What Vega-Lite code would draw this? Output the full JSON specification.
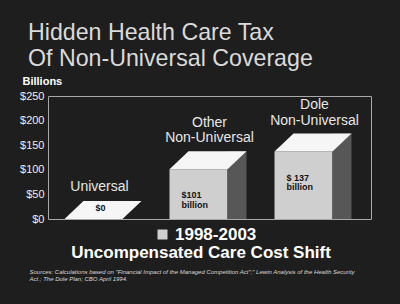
{
  "$schema": "https://vega.github.io/schema/vega-lite/v6.json",
  "width": 323,
  "height": 123,
  "autosize": "none",
  "padding": {"left": 48, "top": 96, "right": 29, "bottom": 85},
  "background": "#1e1e1e",
  "config": {
    "view": {"stroke": "#a8a8a8", "strokeWidth": 1},
    "font": "Liberation Sans"
  },
  "title": {
    "text": ["Hidden Health Care Tax", "Of Non-Universal Coverage"],
    "anchor": "start",
    "frame": "group",
    "dx": -20,
    "offset": 3.5,
    "fontSize": 23.2,
    "fontWeight": "normal",
    "color": "#dadada",
    "lineHeight": 26.5,
    "font": "Liberation Sans"
  },
  "data": {
    "values": [
      {"category": "Universal", "value": 0, "label": "Universal", "inner": "$0"},
      {"category": "Other Non-Universal", "value": 101, "label": "Other\nNon-Universal", "inner": "$101\nbillion"},
      {"category": "Dole Non-Universal", "value": 137, "label": "Dole\nNon-Universal", "inner": "$ 137\nbillion"}
    ]
  },
  "encoding": {
    "x": {
      "field": "category",
      "type": "nominal",
      "sort": null,
      "scale": {"type": "point", "padding": 0.538},
      "axis": {
        "labels": false,
        "ticks": false,
        "domain": false,
        "grid": false,
        "title": "Uncompensated Care Cost Shift",
        "titleX": 152.5,
        "titleY": 38.7,
        "titleAlign": "center",
        "titleBaseline": "alphabetic",
        "titleFontSize": 17,
        "titleFontWeight": "bold",
        "titleColor": "#ffffff",
        "titleFont": "Liberation Sans"
      }
    }
  },
  "layer": [
    {
      "encoding": {
        "y": {
          "field": "value",
          "type": "quantitative",
          "scale": {"domain": [0, 250], "nice": false},
          "axis": {
            "values": [0, 50, 100, 150, 200, 250],
            "labelExpr": "'$' + datum.value",
            "labelFontSize": 11,
            "labelColor": "#ececec",
            "labelFont": "Liberation Sans",
            "labelPadding": 4,
            "ticks": false,
            "domain": false,
            "grid": false,
            "title": "Billions",
            "titleAngle": 0,
            "titleAlign": "left",
            "titleBaseline": "alphabetic",
            "titleX": -26,
            "titleY": -12,
            "titleFontSize": 11,
            "titleFontWeight": "bold",
            "titleColor": "#ffffff",
            "titleFont": "Liberation Sans"
          }
        }
      },
      "layer": [
        {
          "mark": {"type": "bar", "width": 58, "xOffset": -11},
          "encoding": {
            "color": {
              "datum": "1998-2003",
              "type": "nominal",
              "scale": {"range": ["#cfcfcf"]},
              "legend": {
                "orient": "none",
                "legendX": 106,
                "legendY": 130,
                "title": null,
                "symbolType": "square",
                "symbolSize": 100,
                "symbolStrokeWidth": 0,
                "symbolOpacity": 1,
                "labelFontSize": 17,
                "labelFontWeight": "bold",
                "labelColor": "#ffffff",
                "labelFont": "Liberation Sans",
                "labelOffset": 4,
                "padding": 0
              }
            }
          }
        },
        {
          "transform": [{"filter": "datum.value > 0"}],
          "mark": {"type": "bar", "width": 19, "xOffset": 27.5, "yOffset": -18, "y2Offset": 0, "color": "#575757"},
          "encoding": {
            "y": {"field": "value", "type": "quantitative", "stack": null},
            "y2": {"datum": 0}
          }
        },
        {
          "mark": {
            "type": "point",
            "shape": "M-40,0 L18,0 L37,-18 L-21,-18 Z",
            "size": 4,
            "filled": true,
            "color": "#f6f6f6",
            "opacity": 1,
            "strokeWidth": 0
          }
        },
        {
          "transform": [{"filter": "datum.value > 0"}],
          "mark": {
            "type": "text",
            "dy": -42.5,
            "baseline": "alphabetic",
            "align": "center",
            "fontSize": 14,
            "color": "#e6e6e6",
            "lineHeight": 15.7,
            "lineBreak": "\n",
            "font": "Liberation Sans"
          },
          "encoding": {"text": {"field": "label"}}
        },
        {
          "transform": [{"filter": "datum.value == 0"}],
          "mark": {
            "type": "text",
            "dx": -5,
            "dy": -28.3,
            "baseline": "alphabetic",
            "align": "center",
            "fontSize": 14,
            "color": "#e6e6e6",
            "font": "Liberation Sans"
          },
          "encoding": {"text": {"field": "label"}}
        },
        {
          "transform": [{"filter": "datum.value == 0"}],
          "mark": {
            "type": "text",
            "dx": -4,
            "dy": -8.3,
            "baseline": "alphabetic",
            "align": "center",
            "fontSize": 9,
            "fontWeight": "bold",
            "color": "#111111",
            "font": "Liberation Sans"
          },
          "encoding": {"text": {"field": "inner"}}
        }
      ]
    },
    {
      "transform": [{"filter": "datum.value > 0"}],
      "mark": {
        "type": "text",
        "dx": -28,
        "dy": 29,
        "baseline": "alphabetic",
        "align": "left",
        "fontSize": 9,
        "fontWeight": "bold",
        "color": "#111111",
        "lineHeight": 9.3,
        "lineBreak": "\n",
        "font": "Liberation Sans"
      },
      "encoding": {
        "text": {"field": "inner"},
        "y": {
          "field": "value",
          "type": "quantitative",
          "scale": {"domain": [0, 250], "nice": false},
          "axis": {
            "orient": "right",
            "labels": false,
            "ticks": false,
            "domain": false,
            "grid": false,
            "title": ["Sources:  Calculations based on \"Financial Impact of the Managed Competition Act\";\" Lewin Analysis of the Health Security", "Act.; The Dole Plan; CBO April 1994."],
            "titleAngle": 0,
            "titleAlign": "left",
            "titleBaseline": "alphabetic",
            "titleX": -342,
            "titleY": 177,
            "titleFontSize": 6,
            "titleFontStyle": "italic",
            "titleFontWeight": "normal",
            "titleColor": "#d8d8d8",
            "titleLineHeight": 7.7,
            "titleFont": "Liberation Sans"
          }
        }
      }
    }
  ],
  "resolve": {"scale": {"y": "independent"}}
}
